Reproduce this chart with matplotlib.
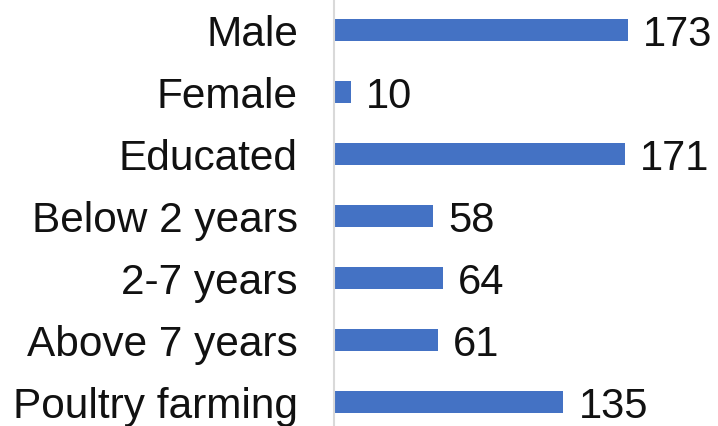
import matplotlib.pyplot as plt

categories = ["Male", "Female", "Educated", "Below 2 years", "2-7 years",
              "Above 7 years", "Poultry farming"]
values = [173, 10, 171, 58, 64, 61, 135]

plt.rcParams['font.family'] = ['Liberation Sans', 'DejaVu Sans']

fig = plt.figure(figsize=(7.18, 4.26), dpi=100)
ax = fig.add_axes([334 / 718, 0, 384 / 718, 1])

ypos = list(range(len(categories)))
ax.barh(ypos, values, height=0.355, color='#4472C4')

for y, v in zip(ypos, values):
    ax.annotate(str(v), (v, y), xytext=(11, 0), textcoords='offset points',
                va='center_baseline', ha='left', fontsize=30, color='#111111')

ax.set_yticks(ypos)
ax.set_yticklabels(categories, fontsize=30.5, color='#111111',
                   va='center_baseline')
ax.tick_params(axis='y', length=0, pad=26)
ax.set_xticks([])
ax.set_xlim(0, 226)
ax.set_ylim(6.387, -0.484)

for s in ['top', 'right', 'bottom']:
    ax.spines[s].set_visible(False)
ax.spines['left'].set_color('#d9d9d9')
ax.spines['left'].set_linewidth(1.5)

fig.savefig('out.png', dpi=100)
